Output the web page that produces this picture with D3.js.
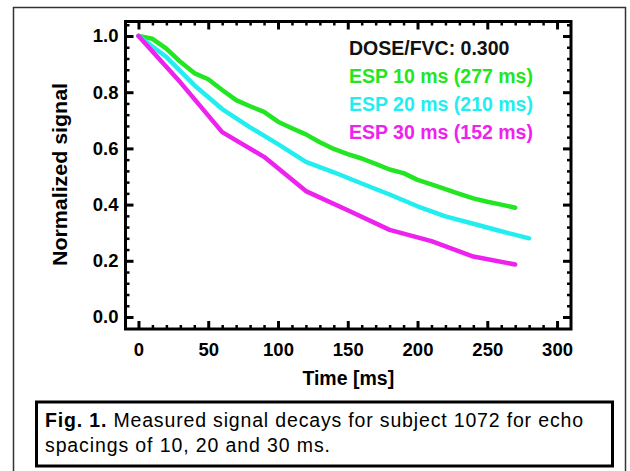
<!DOCTYPE html>
<html lang="en">

<head>
	<meta charset="utf-8">
	<title>Signal decays</title>
	<style>
		body {
			margin: 0;
			background: #fff;
		}

		svg {
			display: block;
			font-family: 'Liberation Sans', Arial, sans-serif;
		}

		.tick text {
			font-size: 18.5px;
			font-weight: bold;
			fill: #000;
		}

		.tick line {
			stroke: #000;
		}
	</style>
</head>

<body>
	<svg id="chart" width="630" height="471"></svg>

	<script src="https://d3js.org/d3.v7.min.js"></script>
	<script type="text/javascript">
		// echo times (ms) and normalized signal
		var timeEsp10 = [0, 10, 20, 30, 40, 50, 60, 70, 80, 90, 100, 110, 120, 130, 140, 150, 160, 170, 180, 190, 200, 210, 220, 230, 240, 250, 260, 270];
		var signalEsp10 = [1.0, 0.99, 0.955, 0.908, 0.868, 0.846, 0.808, 0.772, 0.75, 0.73, 0.695, 0.672, 0.65, 0.622, 0.598, 0.58, 0.564, 0.545, 0.525, 0.512, 0.488, 0.472, 0.455, 0.438, 0.422, 0.41, 0.4, 0.389];

		var timeEsp20 = [0, 20, 40, 60, 80, 100, 120, 140, 160, 180, 200, 220, 240, 260, 280];
		var signalEsp20 = [1.0, 0.925, 0.825, 0.74, 0.675, 0.615, 0.552, 0.515, 0.475, 0.436, 0.394, 0.358, 0.332, 0.305, 0.28];

		var timeEsp30 = [0, 30, 60, 90, 120, 150, 180, 210, 240, 270];
		var signalEsp30 = [1.0, 0.835, 0.658, 0.57, 0.448, 0.38, 0.31, 0.27, 0.215, 0.187];

		var seriesLabels = ["ESP 10 ms (277 ms)", "ESP 20 ms (210 ms)", "ESP 30 ms (152 ms)"];
		var seriesColors = ["#22e622", "#22eef0", "#ee22ee"];

		var xTicks = [0, 50, 100, 150, 200, 250, 300];
		var xMinorTicks = [10, 20, 30, 40, 60, 70, 80, 90, 110, 120, 130, 140, 160, 170, 180, 190, 210, 220, 230, 240, 260, 270, 280, 290];
		var yTicks = [0.0, 0.2, 0.4, 0.6, 0.8, 1.0];
		var yMinorTicks = [0.04, 0.08, 0.12, 0.16, 0.24, 0.28, 0.32, 0.36, 0.44, 0.48, 0.52, 0.56, 0.64, 0.68, 0.72, 0.76, 0.84, 0.88, 0.92, 0.96, 1.04];

		var plot = { left: 125.5, top: 21.5, right: 571, bottom: 329 };

		var svg = d3.select("#chart");

		// outer page frame
		svg.append("rect")
			.attr("x", 13.5)
			.attr("y", 7.5)
			.attr("width", 612)
			.attr("height", 466)
			.style("fill", "none")
			.style("stroke", "#333")
			.style("stroke-width", 1.5);

		var x = d3.scaleLinear().domain([-9.3, 310]).range([plot.left, plot.right]);
		var y = d3.scaleLinear().domain([-0.0427, 1.0516]).range([plot.bottom, plot.top]);

		function minorAxis(axis, ticks) {
			return axis.tickValues(ticks).tickSize(-4).tickSizeOuter(0).tickFormat("");
		}

		function addAxis(axis, tx, ty, cls) {
			var g = svg.append("g")
				.attr("class", cls)
				.attr("transform", "translate(" + tx + "," + ty + ")")
				.call(axis);
			g.select(".domain").remove();
			return g;
		}

		// minor ticks on all four sides
		addAxis(minorAxis(d3.axisBottom(x), xMinorTicks), 0, plot.bottom, "minor").selectAll("line").style("stroke-width", 2.5);
		addAxis(minorAxis(d3.axisTop(x), xMinorTicks), 0, plot.top, "minor").selectAll("line").style("stroke-width", 2.5);
		addAxis(minorAxis(d3.axisLeft(y), yMinorTicks), plot.left, 0, "minor").selectAll("line").style("stroke-width", 2.5);
		addAxis(minorAxis(d3.axisRight(y), yMinorTicks), plot.right, 0, "minor").selectAll("line").style("stroke-width", 2.5);

		// major ticks, labels only bottom and left
		addAxis(d3.axisBottom(x).tickValues(xTicks).tickSize(-8).tickPadding(14).tickFormat(d3.format("d")), 0, plot.bottom, "major")
			.selectAll("line").style("stroke-width", 3);
		addAxis(d3.axisLeft(y).tickValues(yTicks).tickSize(-8).tickPadding(7).tickFormat(d3.format(".1f")), plot.left, 0, "major")
			.selectAll("line").style("stroke-width", 3);
		addAxis(d3.axisTop(x).tickValues(xTicks).tickSize(-8).tickFormat(""), 0, plot.top, "major")
			.selectAll("line").style("stroke-width", 3);
		addAxis(d3.axisRight(y).tickValues(yTicks).tickSize(-8).tickFormat(""), plot.right, 0, "major")
			.selectAll("line").style("stroke-width", 3);

		// curves
		var line = d3.line()
			.x(function(d) { return x(d[0]); })
			.y(function(d) { return y(d[1]); });

		var series = [
			d3.zip(timeEsp10, signalEsp10),
			d3.zip(timeEsp20, signalEsp20),
			d3.zip(timeEsp30, signalEsp30)
		];

		svg.append("g").selectAll("path").data(series)
			.enter().append("path")
			.attr("d", line)
			.style("fill", "none")
			.style("stroke", function(d, i) { return seriesColors[i]; })
			.style("stroke-width", 4.5)
			.style("stroke-linecap", "round")
			.style("stroke-linejoin", "round");

		// plot frame
		svg.append("rect")
			.attr("x", plot.left)
			.attr("y", plot.top)
			.attr("width", plot.right - plot.left)
			.attr("height", plot.bottom - plot.top)
			.style("fill", "none")
			.style("stroke", "#000")
			.style("stroke-width", 3);

		// legend
		var legend = svg.append("g").attr("transform", "translate(349,0)")
			.style("font-size", "19.5px")
			.style("font-weight", "bold");

		legend.append("text").attr("y", 54.5).style("fill", "#111").text("DOSE/FVC: 0.300");
		legend.selectAll(".legend-item").data(seriesLabels)
			.enter().append("text")
			.attr("class", "legend-item")
			.attr("y", function(d, i) { return 83 + i * 28; })
			.style("fill", function(d, i) { return seriesColors[i]; })
			.text(function(d) { return d; });

		// axis titles
		svg.append("text")
			.attr("x", (plot.left + plot.right) / 2)
			.attr("y", 385)
			.style("text-anchor", "middle")
			.style("font-size", "19.5px")
			.style("font-weight", "bold")
			.text("Time [ms]");

		svg.append("text")
			.attr("transform", "translate(67,174.5) rotate(-90)")
			.style("text-anchor", "middle")
			.style("font-size", "19.5px")
			.style("font-weight", "bold")
			.attr("textLength", 183)
			.attr("lengthAdjust", "spacingAndGlyphs")
			.text("Normalized signal");

		// caption box
		svg.append("rect")
			.attr("x", 36.5)
			.attr("y", 402)
			.attr("width", 576)
			.attr("height", 64)
			.style("fill", "#fff")
			.style("stroke", "#000")
			.style("stroke-width", 3);

		var caption = svg.append("text")
			.attr("x", 45)
			.attr("y", 427)
			.attr("textLength", 538)
			.attr("lengthAdjust", "spacing")
			.style("font-size", "19.5px");
		caption.append("tspan").style("font-weight", "bold").text("Fig. 1.");
		caption.append("tspan").text(" Measured  signal decays for subject 1072 for echo");

		svg.append("text")
			.attr("x", 45)
			.attr("y", 452)
			.attr("textLength", 285)
			.attr("lengthAdjust", "spacing")
			.style("font-size", "19.5px")
			.text("spacings of 10, 20 and 30 ms.");
	</script>
</body>

</html>
